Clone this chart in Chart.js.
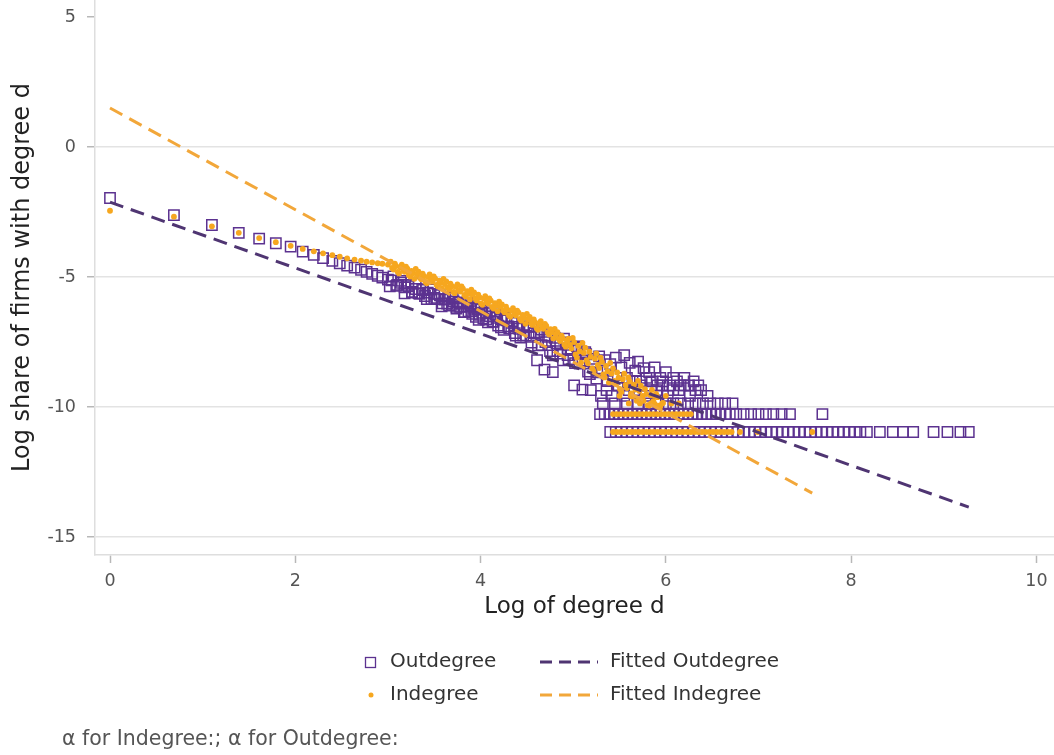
<!DOCTYPE html>
<html>
<head>
<meta charset="utf-8">
<script src="https://cdn.jsdelivr.net/npm/chart.js@4.4.1/dist/chart.umd.min.js"></script>
<style>
  html, body { margin: 0; padding: 0; background: #ffffff; }
  canvas { display: block; }
</style>
</head>
<body>
<canvas id="chart" width="1054" height="755"></canvas>
<script>
// Degree distribution of the firm network: log share of firms vs. log degree.

// Log share levels reached by degrees held by only 1, 2, 3 or 4 firms
const LOG_SHARE_1 = -10.96;
const LOG_SHARE_2 = -10.27;
const LOG_SHARE_3 = -9.86;
const LOG_SHARE_4 = -9.57;

// Outdegree: [log degree, log share]
const outHead = [
  [0, -1.96], [0.69, -2.62], [1.10, -3.00], [1.39, -3.30], [1.61, -3.52],
  [1.79, -3.70], [1.95, -3.83], [2.08, -4.02], [2.20, -4.15], [2.30, -4.27],
  [2.40, -4.38], [2.48, -4.47], [2.56, -4.56], [2.64, -4.64], [2.71, -4.72],
  [2.77, -4.80], [2.83, -4.88], [2.89, -4.95], [2.94, -5.02], [3.00, -5.10]
];
const outBody = [
  [3.04, -5.13], [3.09, -5.34], [3.14, -5.22], [3.18, -5.40], [3.22, -5.30],
  [3.26, -5.57], [3.30, -5.46], [3.33, -5.62], [3.37, -5.47], [3.40, -5.73],
  [3.43, -5.60], [3.47, -5.85], [3.50, -5.65], [3.53, -5.85], [3.56, -5.70],
  [3.59, -6.01], [3.61, -5.87], [3.64, -6.02], [3.66, -5.80], [3.69, -6.07],
  [3.71, -5.94], [3.74, -6.21], [3.76, -5.98], [3.78, -6.15], [3.81, -6.02],
  [3.83, -6.35], [3.85, -6.14], [3.87, -6.32], [3.89, -6.09], [3.91, -6.42],
  [3.93, -6.22], [3.95, -6.53], [3.97, -6.24], [3.99, -6.45], [4.01, -6.24],
  [4.03, -6.60], [4.06, -6.39], [4.08, -6.74], [4.10, -6.51], [4.13, -6.72],
  [4.16, -6.44], [4.19, -6.87], [4.22, -6.63], [4.25, -7.03], [4.28, -6.67],
  [4.31, -6.97], [4.34, -6.69], [4.37, -7.16], [4.40, -6.92], [4.43, -7.33],
  [4.46, -6.91], [4.49, -7.25], [4.52, -6.92], [4.55, -7.52], [4.58, -7.16],
  [4.61, -8.20], [4.63, -7.13], [4.66, -7.62], [4.69, -8.56], [4.72, -7.30],
  [4.75, -7.85], [4.78, -8.66], [4.80, -7.34], [4.83, -7.85], [4.86, -7.60],
  [4.89, -8.20], [4.92, -7.51], [4.95, -8.16], [4.98, -7.81], [5.01, -9.17],
  [5.04, -7.67], [5.07, -8.33], [5.10, -9.33], [5.13, -7.89], [5.16, -8.64],
  [5.19, -9.35], [5.22, -8.15], [5.25, -8.91]
];
const outBodyB = [
  [3.02, -5.36], [3.06, -4.98], [3.10, -5.30], [3.14, -5.15], [3.18, -5.63],
  [3.22, -5.35], [3.26, -5.60], [3.30, -5.25], [3.34, -5.65], [3.38, -5.50],
  [3.42, -5.85], [3.46, -5.48], [3.50, -5.80], [3.54, -5.65], [3.58, -6.13],
  [3.62, -5.85], [3.66, -6.10], [3.70, -5.75], [3.74, -6.15], [3.78, -6.00],
  [3.82, -6.35], [3.86, -5.99], [3.90, -6.31], [3.94, -6.17], [3.98, -6.65],
  [4.02, -6.38], [4.06, -6.64], [4.10, -6.30], [4.14, -6.71], [4.18, -6.57],
  [4.22, -6.93], [4.26, -6.57], [4.30, -6.90], [4.34, -6.76], [4.38, -7.25],
  [4.42, -6.99], [4.46, -7.24], [4.50, -6.90], [4.54, -7.30], [4.58, -7.16],
  [4.62, -7.63], [4.66, -7.02], [4.70, -7.50], [4.74, -7.25], [4.78, -8.01],
  [4.82, -7.55], [4.86, -7.94], [4.90, -7.37], [4.94, -8.00], [4.98, -7.75],
  [5.02, -8.31], [5.06, -7.71], [5.10, -8.21], [5.14, -7.97], [5.18, -8.73],
  [5.22, -8.27], [5.26, -8.67]
];
const outTail = [
  [5.28, -8.05], [5.31, -8.60], [5.34, -8.20], [5.37, -9.00], [5.40, -8.35],
  [5.43, -8.80], [5.46, -8.10], [5.49, -9.17], [5.52, -8.48], [5.55, -8.00],
  [5.58, -8.88], [5.61, -8.30], [5.64, -9.01], [5.67, -8.60], [5.70, -8.25],
  [5.73, -9.17], [5.76, -8.50], [5.79, -8.88], [5.82, -8.66], [5.85, -9.01],
  [5.88, -8.48], [5.91, -9.17], [5.94, -8.88], [5.97, -9.01], [6.00, -8.66],
  [6.04, -9.17], [6.08, -8.88], [6.12, -9.01], [6.16, -9.17], [6.20, -8.88],
  [6.25, -9.17], [6.30, -9.01], [6.35, -9.17],
  [5.30, -9.57], [5.42, -9.57], [5.55, -9.57], [5.66, -9.35], [5.78, -9.57],
  [5.90, -9.35], [6.02, -9.57], [6.14, -9.35], [6.26, -9.57], [6.38, -9.35],
  [6.45, -9.57], [5.36, -9.35], [5.48, -9.17], [5.60, -9.35], [5.72, -9.01],
  [5.84, -9.35], [5.96, -9.17], [6.08, -9.35], [6.20, -9.17], [6.32, -9.35]
];
const outRow3 = [5.32, 5.45, 5.58, 5.70, 5.82, 5.92, 6.00, 6.08, 6.16, 6.24, 6.32, 6.40, 6.48, 6.56, 6.64, 6.72];
const outRow2 = [5.29, 5.34, 5.39, 5.44, 5.49, 5.54, 5.59, 5.64, 5.69, 5.74, 5.79, 5.84, 5.89, 5.94, 5.99,
  6.04, 6.09, 6.14, 6.19, 6.24, 6.29, 6.34, 6.39, 6.44, 6.49, 6.54, 6.59, 6.64, 6.69,
  6.76, 6.84, 6.92, 7.00, 7.08, 7.16, 7.25, 7.34, 7.69];
const outRow1 = [5.40, 5.46, 5.52, 5.58, 5.64, 5.70, 5.76, 5.82, 5.88, 5.94, 6.00, 6.06, 6.12, 6.18,
  6.24, 6.30, 6.36, 6.42, 6.48, 6.54, 6.60, 6.66, 6.72, 6.78, 6.84, 6.90, 6.96,
  7.02, 7.08, 7.14, 7.20, 7.26, 7.32, 7.38, 7.44, 7.50, 7.56, 7.62, 7.68, 7.74, 7.80,
  7.86, 7.92, 7.98, 8.04, 8.10,
  8.17, 8.31, 8.45, 8.56, 8.67, 8.89, 9.04, 9.18, 9.27];

// Indegree: [log degree, log share]
const inHead = [
  [0, -2.45], [0.69, -2.68], [1.10, -3.05], [1.39, -3.30], [1.61, -3.50],
  [1.79, -3.66], [1.95, -3.80], [2.08, -3.92], [2.20, -4.01], [2.30, -4.09],
  [2.40, -4.16], [2.48, -4.22], [2.56, -4.28], [2.64, -4.33], [2.71, -4.37],
  [2.77, -4.41], [2.83, -4.44], [2.89, -4.47], [2.94, -4.49], [3.00, -4.52]
];
const inBody = [
  [3.03, -4.41], [3.06, -4.71], [3.09, -4.58], [3.12, -4.86], [3.15, -4.52],
  [3.18, -4.80], [3.21, -4.68], [3.24, -4.98], [3.27, -4.85], [3.30, -4.69],
  [3.33, -4.79], [3.36, -5.09], [3.39, -4.97], [3.42, -5.24], [3.45, -4.90],
  [3.48, -5.18], [3.51, -5.06], [3.54, -5.36], [3.57, -5.23], [3.60, -5.07],
  [3.63, -5.17], [3.66, -5.47], [3.69, -5.35], [3.72, -5.62], [3.75, -5.28],
  [3.78, -5.56], [3.81, -5.45], [3.84, -5.75], [3.87, -5.64], [3.90, -5.49],
  [3.93, -5.59], [3.96, -5.90], [3.99, -5.78], [4.02, -6.07], [4.05, -5.74],
  [4.08, -6.02], [4.11, -5.91], [4.14, -6.21], [4.17, -6.10], [4.20, -5.95],
  [4.23, -6.05], [4.26, -6.36], [4.29, -6.25], [4.32, -6.53], [4.35, -6.20],
  [4.38, -6.48], [4.41, -6.37], [4.44, -6.68], [4.47, -6.57], [4.50, -6.42],
  [4.53, -6.53], [4.56, -6.84], [4.59, -6.74], [4.62, -7.03], [4.65, -6.70],
  [4.68, -6.99], [4.71, -6.88], [4.74, -7.21], [4.77, -7.12], [4.80, -6.99],
  [4.83, -7.12], [4.86, -7.46], [4.89, -7.37], [4.92, -7.68], [4.95, -7.37],
  [4.98, -7.75], [5.01, -7.50], [5.04, -8.10], [5.07, -7.85], [5.10, -7.53],
  [5.13, -7.72], [5.16, -8.32], [5.19, -8.07], [5.22, -8.63], [5.25, -7.94],
  [5.28, -8.50], [5.31, -8.26], [5.34, -8.86], [5.37, -8.62], [5.40, -8.30],
  [5.43, -8.51], [5.46, -9.11], [5.49, -8.87], [5.52, -9.42], [5.55, -8.72],
  [5.58, -9.27], [5.61, -9.01], [5.64, -9.59], [5.67, -9.33], [5.70, -8.99],
  [5.73, -9.18], [5.76, -9.76], [5.79, -9.50], [5.82, -9.94], [5.85, -9.34],
  [5.88, -9.88], [5.91, -9.62], [5.94, -9.98], [5.97, -9.84]
];
const inBodyB = [
  [3.045, -4.65], [3.075, -4.49], [3.105, -4.80], [3.135, -4.62], [3.165, -4.74],
  [3.195, -4.60], [3.225, -4.92], [3.255, -4.76], [3.285, -5.07], [3.315, -4.89],
  [3.345, -5.03], [3.375, -4.87], [3.405, -5.19], [3.435, -5.00], [3.465, -5.12],
  [3.495, -4.98], [3.525, -5.30], [3.555, -5.14], [3.585, -5.45], [3.615, -5.27],
  [3.645, -5.41], [3.675, -5.25], [3.705, -5.57], [3.735, -5.38], [3.765, -5.50],
  [3.795, -5.36], [3.825, -5.69], [3.855, -5.54], [3.885, -5.86], [3.915, -5.69],
  [3.945, -5.83], [3.975, -5.68], [4.005, -6.01], [4.035, -5.83], [4.065, -5.96],
  [4.095, -5.82], [4.125, -6.15], [4.155, -6.00], [4.185, -6.32], [4.215, -6.15],
  [4.245, -6.30], [4.275, -6.14], [4.305, -6.47], [4.335, -6.29], [4.365, -6.42],
  [4.395, -6.29], [4.425, -6.61], [4.455, -6.46], [4.485, -6.80], [4.515, -6.63],
  [4.545, -6.78], [4.575, -6.63], [4.605, -6.96], [4.635, -6.79], [4.665, -6.93],
  [4.695, -6.80], [4.725, -7.13], [4.755, -7.00], [4.785, -7.36], [4.815, -7.21],
  [4.845, -7.38], [4.875, -7.25], [4.905, -7.60], [4.935, -7.46], [4.965, -7.61],
  [4.995, -7.34], [5.025, -7.98], [5.055, -7.65], [5.085, -8.29], [5.115, -7.92],
  [5.145, -8.20], [5.175, -7.87], [5.205, -8.51], [5.235, -8.14], [5.265, -8.38],
  [5.295, -8.10], [5.325, -8.74], [5.355, -8.42], [5.385, -9.06], [5.415, -8.71],
  [5.445, -8.99], [5.475, -8.67], [5.505, -9.31], [5.535, -8.93], [5.565, -9.15],
  [5.595, -8.86], [5.625, -9.48], [5.655, -9.14], [5.685, -9.76], [5.715, -9.38],
  [5.745, -9.65], [5.775, -9.31], [5.805, -9.93], [5.835, -9.55], [5.865, -9.77],
  [5.895, -9.49], [5.925, -9.95]
];
const inRow4 = [5.50, 5.62, 5.75, 5.88, 6.00];
const inRow3 = [5.60, 5.72, 5.84, 5.96, 6.06, 6.14];
const inRow2 = [5.43, 5.47, 5.51, 5.55, 5.59, 5.63, 5.67, 5.71, 5.75, 5.79, 5.83, 5.87, 5.91, 5.95,
  5.99, 6.03, 6.07, 6.11, 6.15, 6.19, 6.23, 6.27];
const inRow1 = [5.43, 5.47, 5.51, 5.55, 5.59, 5.63, 5.67, 5.71, 5.75, 5.79, 5.83, 5.87, 5.91, 5.95,
  5.99, 6.03, 6.07, 6.11, 6.15, 6.19, 6.23, 6.27, 6.31, 6.35, 6.39, 6.43, 6.47, 6.51,
  6.55, 6.59, 6.63, 6.67, 6.71, 6.80, 6.99, 7.58];

// Fitted power-law lines (end points in log degree / log share)
const fitOutX = [0, 9.27];
const fitOutY = [-2.12, -13.85];
const fitInX = [0, 7.58];
const fitInY = [1.50, -13.31];

// Axis ticks
const xTicks = [0, 2, 4, 6, 8, 10];
const yTicks = [-15, -10, -5, 0, 5];

const noteText = 'α for Indegree:; α for Outdegree:';

// ---- helpers ----
const pairs = list => list.map(([x, y]) => ({ x, y }));
const row = (xs, level) => xs.map(x => ({ x, y: level }));
const line = (xs, ys) => xs.map((x, i) => ({ x, y: ys[i] }));

const PURPLE = '#5c3290';
const PURPLE_FIT = '#4f3572';
const ORANGE = '#f6a71f';
const ORANGE_FIT = '#f2a73a';
const FONT = '"DejaVu Sans", sans-serif';

Chart.defaults.font.family = FONT;

const outdegreeData = [].concat(
  pairs(outHead), pairs(outBody), pairs(outBodyB), pairs(outTail),
  row(outRow3, LOG_SHARE_3), row(outRow2, LOG_SHARE_2), row(outRow1, LOG_SHARE_1)
);
const indegreeData = [].concat(
  pairs(inHead), pairs(inBody), pairs(inBodyB),
  row(inRow4, LOG_SHARE_4), row(inRow3, LOG_SHARE_3), row(inRow2, LOG_SHARE_2), row(inRow1, LOG_SHARE_1)
);

// Two-column legend and footnote drawn under the axis
const legendItems = [
  { ds: 0, col: 0, rowY: 662 },
  { ds: 2, col: 1, rowY: 662 },
  { ds: 1, col: 0, rowY: 695 },
  { ds: 3, col: 1, rowY: 695 }
];
const legendPlugin = {
  id: 'twoColumnLegend',
  afterDraw(chart) {
    const ctx = chart.ctx;
    ctx.save();
    ctx.textBaseline = 'middle';
    ctx.textAlign = 'left';
    ctx.font = '20px ' + FONT;
    legendItems.forEach(item => {
      const ds = chart.data.datasets[item.ds];
      const y = item.rowY;
      if (item.col === 0) {
        if (ds.pointStyle === 'rect') {
          ctx.strokeStyle = ds.pointBorderColor;
          ctx.lineWidth = 1.3;
          ctx.strokeRect(365.5, y - 4.5, 10, 10);
        } else {
          ctx.fillStyle = ds.pointBackgroundColor;
          ctx.beginPath();
          ctx.arc(371, y, 2.5, 0, Math.PI * 2);
          ctx.fill();
        }
        ctx.fillStyle = '#333';
        ctx.fillText(ds.label, 390, y);
      } else {
        ctx.strokeStyle = ds.borderColor;
        ctx.lineWidth = ds.borderWidth;
        ctx.setLineDash([12, 7]);
        ctx.beginPath();
        ctx.moveTo(540, y);
        ctx.lineTo(598, y);
        ctx.stroke();
        ctx.setLineDash([]);
        ctx.fillStyle = '#333';
        ctx.fillText(ds.label, 610, y);
      }
    });
    ctx.font = '20.5px ' + FONT;
    ctx.fillStyle = '#555';
    ctx.fillText(noteText, 62, 740);
    ctx.restore();
  }
};

new Chart(document.getElementById('chart'), {
  type: 'scatter',
  data: {
    datasets: [
      {
        label: 'Outdegree',
        data: outdegreeData,
        pointStyle: 'rect',
        pointRadius: 7.3,
        pointBorderWidth: 1.5,
        pointBorderColor: PURPLE,
        pointBackgroundColor: 'rgba(0,0,0,0)',
        order: 4
      },
      {
        label: 'Indegree',
        data: indegreeData,
        pointStyle: 'circle',
        pointRadius: 2.9,
        pointBorderWidth: 0,
        pointBackgroundColor: ORANGE,
        order: 3
      },
      {
        label: 'Fitted Outdegree',
        data: line(fitOutX, fitOutY),
        showLine: true,
        fill: false,
        pointRadius: 0,
        borderColor: PURPLE_FIT,
        borderWidth: 3,
        borderDash: [14, 8],
        order: 2
      },
      {
        label: 'Fitted Indegree',
        data: line(fitInX, fitInY),
        showLine: true,
        fill: false,
        pointRadius: 0,
        borderColor: ORANGE_FIT,
        borderWidth: 3,
        borderDash: [14, 8],
        order: 1
      }
    ]
  },
  options: {
    responsive: false,
    animation: false,
    devicePixelRatio: 1,
    layout: { autoPadding: false, padding: { left: 0, right: 0, top: 0, bottom: 130 } },
    plugins: { legend: { display: false }, tooltip: { enabled: false } },
    scales: {
      x: {
        type: 'linear',
        min: -0.162,
        max: 10.19,
        afterBuildTicks: s => { s.ticks = xTicks.map(v => ({ value: v })); },
        afterFit: s => { s.height = 70; s.paddingLeft = 0; s.paddingRight = 0; },
        grid: { drawOnChartArea: false, drawTicks: true, tickLength: 8, tickColor: '#b8b8b8', tickWidth: 1.5 },
        border: { display: true, color: '#dedede', width: 1.5 },
        ticks: { color: '#555', font: { size: 17.5 }, padding: 8, maxRotation: 0 },
        title: { display: true, text: 'Log of degree d', color: '#222', font: { size: 23 }, padding: { top: 0, bottom: 4 } }
      },
      y: {
        type: 'linear',
        min: -15.69,
        max: 5.654,
        afterBuildTicks: s => { s.ticks = yTicks.map(v => ({ value: v })); },
        afterFit: s => { s.width = 95; s.paddingTop = 0; s.paddingBottom = 0; },
        grid: {
          color: c => (c.tick && c.tick.value === 5) ? 'rgba(0,0,0,0)' : '#e3e3e3',
          lineWidth: 1.5,
          drawTicks: true,
          tickLength: 8,
          tickColor: '#b8b8b8',
          tickWidth: 1.5
        },
        border: { display: true, color: '#dedede', width: 1.5 },
        ticks: { color: '#555', font: { size: 17.5 }, padding: 11 },
        title: { display: true, text: 'Log share of firms with degree d', color: '#222', font: { size: 24 }, padding: { top: 8, bottom: 0 } }
      }
    }
  },
  plugins: [legendPlugin]
});
</script>
</body>
</html>
